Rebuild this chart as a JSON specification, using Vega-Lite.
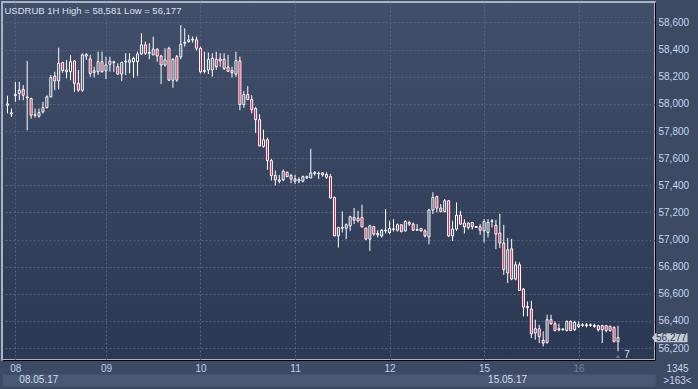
{
  "$schema": "https://vega.github.io/schema/vega-lite/v6.json",
  "width": 653,
  "height": 358,
  "autosize": {"type": "none"},
  "padding": {"left": 2, "top": 2, "right": 43, "bottom": 29},
  "background": "#3d4a64",
  "config": {
    "view": {"stroke": "#aab4c4", "strokeWidth": 2, "fill": {"gradient": "linear", "x1": 0, "y1": 0, "x2": 0, "y2": 1, "stops": [{"offset": 0, "color": "#414f6a"}, {"offset": 1, "color": "#2b3853"}]}},
    "axis": {"labelFont": "Liberation Sans", "labelFontSize": 10, "titleFont": "Liberation Sans"},
    "axisRight": {"ticks": false, "tickSize": 0, "domain": true, "domainColor": "#000000", "domainWidth": 1, "grid": true, "gridColor": "#56637e", "gridDash": [2, 2], "gridWidth": 1,
      "labelPadding": 3, "labelAlign": "left", "labelBaseline": "middle", "labelFlush": false, "labelOverlap": false, "labelColor": "#c4d6ee",
      "titleAngle": 0, "titleX": 22, "titleY": 366.5, "titleAlign": "center", "titleBaseline": "middle", "titleLineHeight": 12, "titleFontSize": 10, "titleFontWeight": "normal", "titleColor": "#c8d4e8"}
  },
  "data": {"values": [
    {"i":-2,"open":57990,"high":58060,"low":57930,"close":58000},
    {"i":-1,"open":57925,"high":57966,"low":57904,"close":57935},
    {"i":0,"open":58062,"high":58163,"low":58015,"close":58070},
    {"i":1,"open":58077,"high":58163,"low":58027,"close":58101},
    {"i":2,"open":58106,"high":58138,"low":58027,"close":58064},
    {"i":3,"open":58052,"high":58316,"low":57805,"close":58045},
    {"i":4,"open":58040,"high":58045,"low":57891,"close":57916},
    {"i":5,"open":57920,"high":57966,"low":57899,"close":57916},
    {"i":6,"open":57909,"high":57966,"low":57899,"close":57936},
    {"i":7,"open":57941,"high":58015,"low":57929,"close":57973},
    {"i":8,"open":57973,"high":58064,"low":57966,"close":58052},
    {"i":9,"open":58052,"high":58213,"low":58047,"close":58195},
    {"i":10,"open":58205,"high":58237,"low":58101,"close":58170},
    {"i":11,"open":58170,"high":58415,"low":58107,"close":58299},
    {"i":12,"open":58304,"high":58311,"low":58230,"close":58247},
    {"i":13,"open":58237,"high":58324,"low":58188,"close":58250},
    {"i":14,"open":58237,"high":58361,"low":58175,"close":58311},
    {"i":15,"open":58316,"high":58324,"low":58089,"close":58151},
    {"i":16,"open":58151,"high":58250,"low":58089,"close":58101},
    {"i":17,"open":58101,"high":58373,"low":58089,"close":58361},
    {"i":18,"open":58353,"high":58373,"low":58324,"close":58365},
    {"i":19,"open":58331,"high":58361,"low":58200,"close":58225},
    {"i":20,"open":58244,"high":58274,"low":58195,"close":58232},
    {"i":21,"open":58237,"high":58385,"low":58213,"close":58311},
    {"i":22,"open":58311,"high":58385,"low":58230,"close":58237},
    {"i":23,"open":58245,"high":58348,"low":58183,"close":58287},
    {"i":24,"open":58292,"high":58348,"low":58237,"close":58314},
    {"i":25,"open":58304,"high":58319,"low":58237,"close":58309},
    {"i":26,"open":58274,"high":58299,"low":58213,"close":58220},
    {"i":27,"open":58220,"high":58311,"low":58170,"close":58306},
    {"i":28,"open":58309,"high":58373,"low":58213,"close":58316},
    {"i":29,"open":58306,"high":58373,"low":58225,"close":58324},
    {"i":30,"open":58311,"high":58348,"low":58193,"close":58336},
    {"i":31,"open":58311,"high":58385,"low":58205,"close":58368},
    {"i":32,"open":58368,"high":58521,"low":58361,"close":58435},
    {"i":33,"open":58435,"high":58459,"low":58361,"close":58373},
    {"i":34,"open":58380,"high":58447,"low":58329,"close":58373},
    {"i":35,"open":58361,"high":58496,"low":58361,"close":58403},
    {"i":36,"open":58403,"high":58410,"low":58311,"close":58353},
    {"i":37,"open":58353,"high":58361,"low":58146,"close":58287},
    {"i":38,"open":58287,"high":58410,"low":58274,"close":58324},
    {"i":39,"open":58410,"high":58422,"low":58168,"close":58175},
    {"i":40,"open":58175,"high":58336,"low":58119,"close":58329},
    {"i":41,"open":58348,"high":58361,"low":58163,"close":58175},
    {"i":42,"open":58348,"high":58581,"low":58329,"close":58440},
    {"i":43,"open":58447,"high":58558,"low":58422,"close":58454},
    {"i":44,"open":58459,"high":58509,"low":58452,"close":58472},
    {"i":45,"open":58472,"high":58496,"low":58452,"close":58477},
    {"i":46,"open":58472,"high":58496,"low":58393,"close":58410},
    {"i":47,"open":58410,"high":58422,"low":58225,"close":58237},
    {"i":48,"open":58245,"high":58385,"low":58225,"close":58240},
    {"i":49,"open":58250,"high":58378,"low":58220,"close":58329},
    {"i":50,"open":58250,"high":58373,"low":58200,"close":58336},
    {"i":51,"open":58329,"high":58385,"low":58250,"close":58274},
    {"i":52,"open":58331,"high":58373,"low":58274,"close":58316},
    {"i":53,"open":58329,"high":58373,"low":58250,"close":58262},
    {"i":54,"open":58272,"high":58361,"low":58237,"close":58240},
    {"i":55,"open":58245,"high":58274,"low":58195,"close":58230},
    {"i":56,"open":58220,"high":58385,"low":58200,"close":58319},
    {"i":57,"open":58316,"high":58348,"low":57953,"close":57995},
    {"i":58,"open":57995,"high":58094,"low":57971,"close":58069},
    {"i":59,"open":58069,"high":58131,"low":58027,"close":58032},
    {"i":60,"open":58032,"high":58064,"low":57929,"close":57958},
    {"i":61,"open":57966,"high":57978,"low":57785,"close":57884},
    {"i":62,"open":57884,"high":57924,"low":57686,"close":57690},
    {"i":63,"open":57686,"high":57810,"low":57677,"close":57736},
    {"i":64,"open":57736,"high":57751,"low":57514,"close":57583},
    {"i":65,"open":57583,"high":57595,"low":57435,"close":57472},
    {"i":66,"open":57472,"high":57509,"low":57398,"close":57440},
    {"i":67,"open":57440,"high":57477,"low":57415,"close":57430},
    {"i":68,"open":57440,"high":57516,"low":57430,"close":57504},
    {"i":69,"open":57496,"high":57501,"low":57459,"close":57464},
    {"i":70,"open":57472,"high":57484,"low":57415,"close":57447},
    {"i":71,"open":57447,"high":57477,"low":57410,"close":57430},
    {"i":72,"open":57432,"high":57459,"low":57415,"close":57442},
    {"i":73,"open":57430,"high":57472,"low":57422,"close":57464},
    {"i":74,"open":57455,"high":57472,"low":57447,"close":57464},
    {"i":75,"open":57454,"high":57669,"low":57454,"close":57491},
    {"i":76,"open":57486,"high":57504,"low":57472,"close":57494},
    {"i":77,"open":57489,"high":57501,"low":57447,"close":57484},
    {"i":78,"open":57491,"high":57496,"low":57464,"close":57477},
    {"i":79,"open":57479,"high":57496,"low":57447,"close":57459},
    {"i":80,"open":57464,"high":57484,"low":57306,"close":57306},
    {"i":81,"open":57311,"high":57316,"low":57027,"close":57027},
    {"i":82,"open":57027,"high":57094,"low":56941,"close":57089},
    {"i":83,"open":57089,"high":57207,"low":57052,"close":57084},
    {"i":84,"open":57084,"high":57119,"low":57003,"close":57109},
    {"i":85,"open":57101,"high":57175,"low":57064,"close":57168},
    {"i":86,"open":57163,"high":57232,"low":57114,"close":57143},
    {"i":87,"open":57138,"high":57212,"low":57126,"close":57158},
    {"i":88,"open":57163,"high":57257,"low":57089,"close":57094},
    {"i":89,"open":57084,"high":57089,"low":56995,"close":57003},
    {"i":90,"open":57003,"high":57109,"low":56916,"close":57101},
    {"i":91,"open":57096,"high":57101,"low":57027,"close":57040},
    {"i":92,"open":57045,"high":57069,"low":57015,"close":57035},
    {"i":93,"open":57027,"high":57077,"low":57015,"close":57069},
    {"i":94,"open":57064,"high":57225,"low":57045,"close":57069},
    {"i":95,"open":57052,"high":57138,"low":57040,"close":57082},
    {"i":96,"open":57074,"high":57151,"low":57059,"close":57079},
    {"i":97,"open":57069,"high":57119,"low":57059,"close":57109},
    {"i":98,"open":57109,"high":57114,"low":57052,"close":57059},
    {"i":99,"open":57064,"high":57143,"low":57059,"close":57133},
    {"i":100,"open":57126,"high":57138,"low":57101,"close":57114},
    {"i":101,"open":57114,"high":57126,"low":57064,"close":57069},
    {"i":102,"open":57074,"high":57114,"low":57064,"close":57069},
    {"i":103,"open":57082,"high":57084,"low":57059,"close":57064},
    {"i":104,"open":57064,"high":57077,"low":57015,"close":57027},
    {"i":105,"open":57020,"high":57225,"low":56965,"close":57218},
    {"i":106,"open":57218,"high":57348,"low":57188,"close":57311},
    {"i":107,"open":57316,"high":57323,"low":57200,"close":57232},
    {"i":108,"open":57232,"high":57262,"low":57200,"close":57207},
    {"i":109,"open":57207,"high":57299,"low":57200,"close":57286},
    {"i":110,"open":57286,"high":57291,"low":57020,"close":57027},
    {"i":111,"open":57027,"high":57138,"low":56990,"close":57077},
    {"i":112,"open":57077,"high":57274,"low":57064,"close":57180},
    {"i":113,"open":57180,"high":57212,"low":57109,"close":57114},
    {"i":114,"open":57122,"high":57150,"low":57045,"close":57094},
    {"i":115,"open":57089,"high":57126,"low":57074,"close":57122},
    {"i":116,"open":57126,"high":57130,"low":57074,"close":57094},
    {"i":117,"open":57096,"high":57099,"low":57089,"close":57089},
    {"i":118,"open":57094,"high":57114,"low":57035,"close":57069},
    {"i":119,"open":57064,"high":57151,"low":56978,"close":57133},
    {"i":120,"open":57052,"high":57151,"low":57015,"close":57126},
    {"i":121,"open":57133,"high":57151,"low":57089,"close":57138},
    {"i":122,"open":57106,"high":57146,"low":56929,"close":57040},
    {"i":123,"open":57048,"high":57190,"low":56937,"close":56974},
    {"i":124,"open":56974,"high":57109,"low":56740,"close":56778},
    {"i":125,"open":56753,"high":57011,"low":56680,"close":56925},
    {"i":126,"open":56932,"high":57006,"low":56700,"close":56709},
    {"i":127,"open":56709,"high":56839,"low":56699,"close":56814},
    {"i":128,"open":56814,"high":56832,"low":56625,"close":56625},
    {"i":129,"open":56635,"high":56642,"low":56434,"close":56502},
    {"i":130,"open":56507,"high":56544,"low":56434,"close":56498},
    {"i":131,"open":56488,"high":56549,"low":56274,"close":56306},
    {"i":132,"open":56311,"high":56409,"low":56262,"close":56343},
    {"i":133,"open":56343,"high":56372,"low":56237,"close":56286},
    {"i":134,"open":56257,"high":56323,"low":56212,"close":56237},
    {"i":135,"open":56242,"high":56446,"low":56232,"close":56409},
    {"i":136,"open":56409,"high":56446,"low":56372,"close":56380},
    {"i":137,"open":56380,"high":56397,"low":56323,"close":56330},
    {"i":138,"open":56343,"high":56380,"low":56323,"close":56335},
    {"i":139,"open":56335,"high":56348,"low":56330,"close":56340},
    {"i":140,"open":56330,"high":56404,"low":56323,"close":56397},
    {"i":141,"open":56397,"high":56404,"low":56325,"close":56330},
    {"i":142,"open":56335,"high":56402,"low":56328,"close":56389},
    {"i":143,"open":56372,"high":56397,"low":56348,"close":56360},
    {"i":144,"open":56367,"high":56385,"low":56355,"close":56372},
    {"i":145,"open":56372,"high":56385,"low":56352,"close":56365},
    {"i":146,"open":56367,"high":56382,"low":56357,"close":56372},
    {"i":147,"open":56367,"high":56380,"low":56350,"close":56360},
    {"i":148,"open":56365,"high":56372,"low":56323,"close":56335},
    {"i":149,"open":56335,"high":56372,"low":56237,"close":56365},
    {"i":150,"open":56365,"high":56370,"low":56316,"close":56330},
    {"i":151,"open":56360,"high":56367,"low":56320,"close":56330},
    {"i":152,"open":56352,"high":56360,"low":56242,"close":56249},
    {"i":153,"open":56249,"high":56365,"low":56177,"close":56277}
  ]},
  "resolve": {"axis": {"x": "independent"}},
  "layer": [
    {
      "mark": {"type": "rule", "color": "#ffffff", "strokeWidth": 1},
      "encoding": {
        "x": {"field": "i", "type": "quantitative", "scale": {"domain": [-2.125, 161.125], "nice": false, "zero": false},
          "axis": {"orient": "bottom", "values": [0, 23, 47, 71, 95, 119, 143],
            "labelExpr": "datum.value == 0 ? '08' : datum.value == 23 ? '09' : datum.value == 47 ? '10' : datum.value == 71 ? '11' : datum.value == 95 ? '12' : datum.value == 119 ? '15' : '16'",
            "grid": true, "gridColor": "#56637e", "gridDash": [2, 2], "gridWidth": 1,
            "ticks": false, "tickSize": 0, "domain": true, "domainColor": "#000000", "domainWidth": 1,
            "labelPadding": 8, "labelBaseline": "middle", "labelAlign": "center", "labelFlush": false, "labelOverlap": false,
            "labelColor": {"condition": {"test": "datum.value == 143", "value": "#6f7f9a"}, "value": "#bcd0ee"},
            "title": null}},
        "y": {"field": "low", "type": "quantitative", "scale": {"domain": [56112.3, 58751.1], "nice": false, "zero": false},
          "axis": {"orient": "right", "values": [56200, 56400, 56600, 56800, 57000, 57200, 57400, 57600, 57800, 58000, 58200, 58400, 58600], "format": ",d", "title": ["1345", ">163<"]}},
        "y2": {"field": "high"}
      }
    },
    {
      "mark": {"type": "bar", "width": 2, "stroke": "#ffffff", "strokeWidth": 1},
      "encoding": {
        "x": {"field": "i", "type": "quantitative",
          "axis": {"orient": "bottom", "offset": 20, "values": [0, 119], "labels": false,
            "grid": false, "ticks": false, "tickSize": 0, "domain": true, "domainColor": "#4b5873", "domainWidth": 12, "title": null}},
        "y": {"field": "open", "type": "quantitative",
          "axis": {"orient": "right", "values": [56200, 56400, 56600, 56800, 57000, 57200, 57400, 57600, 57800, 58000, 58200, 58400, 58600], "format": ",d", "title": ["1345", ">163<"]}},
        "y2": {"field": "close"},
        "fill": {"condition": {"test": "datum.open > datum.close", "value": "#e2123e"}, "value": "#34415c"}
      }
    },
    {
      "transform": [{"filter": "datum.i == 153"}],
      "mark": {"type": "point", "shape": "M3.4,0L3.75,-0.45L6.95,-0.45L6.95,0.45L3.75,0.45Z", "size": 400, "filled": true, "fill": "#c5cad3", "opacity": 1, "strokeWidth": 0},
      "encoding": {
        "x": {"field": "i", "type": "quantitative",
          "axis": {"orient": "bottom", "offset": 20, "values": [0, 119],
            "labelExpr": "datum.value == 0 ? '08.05.17' : '15.05.17'",
            "grid": false, "ticks": false, "tickSize": 0, "domain": false,
            "labelAlign": "left", "labelOffset": 3.5, "labelBaseline": "middle", "labelPadding": -0.5,
            "labelColor": "#d0dcf0", "labelFlush": false, "labelOverlap": false, "title": null}},
        "y": {"field": "close", "type": "quantitative",
          "axis": {"orient": "right", "values": [56200, 56400, 56600, 56800, 57000, 57200, 57400, 57600, 57800, 58000, 58200, 58400, 58600], "format": ",d", "title": ["1345", ">163<"]}}
      }
    },
    {
      "transform": [{"filter": "datum.i == 153"}],
      "mark": {"type": "text", "dx": 53.3, "align": "center", "baseline": "middle", "font": "Liberation Sans", "fontSize": 10, "color": "#2a3857"},
      "encoding": {
        "x": {"field": "i", "type": "quantitative",
          "axis": {"orient": "top", "domain": false, "labels": false, "ticks": false, "tickSize": 0, "grid": false,
            "title": "USDRUB 1H High = 58,581 Low = 56,177", "titleX": 2, "titleY": 8, "titleAlign": "left", "titleAnchor": null, "titleBaseline": "middle", "titleAngle": 0,
            "titleFontSize": 9.5, "titleFontWeight": "normal", "titleColor": "#d8e0ee"}},
        "y": {"field": "close", "type": "quantitative",
          "axis": {"orient": "right", "values": [56200, 56400, 56600, 56800, 57000, 57200, 57400, 57600, 57800, 58000, 58200, 58400, 58600], "format": ",d", "title": ["1345", ">163<"]}},
        "text": {"field": "close", "type": "quantitative", "format": ",d"}
      }
    },
    {
      "transform": [{"filter": "datum.i == 153"}],
      "mark": {"type": "point", "shape": "triangle-up", "size": 18, "filled": true, "color": "#6a778f", "opacity": 1, "yOffset": 5},
      "encoding": {
        "x": {"field": "i", "type": "quantitative", "axis": null},
        "y": {"field": "low", "type": "quantitative",
          "axis": {"orient": "right", "values": [56200, 56400, 56600, 56800, 57000, 57200, 57400, 57600, 57800, 58000, 58200, 58400, 58600], "format": ",d", "title": ["1345", ">163<"]}}
      }
    },
    {
      "transform": [{"filter": "datum.i == 153"}],
      "mark": {"type": "text", "text": "7", "dx": 9, "dy": 4, "align": "center", "baseline": "middle", "font": "Liberation Sans", "fontSize": 10, "color": "#d8e0ee"},
      "encoding": {
        "x": {"field": "i", "type": "quantitative", "axis": null},
        "y": {"field": "low", "type": "quantitative",
          "axis": {"orient": "right", "values": [56200, 56400, 56600, 56800, 57000, 57200, 57400, 57600, 57800, 58000, 58200, 58400, 58600], "format": ",d", "title": ["1345", ">163<"]}}
      }
    }
  ]
}
